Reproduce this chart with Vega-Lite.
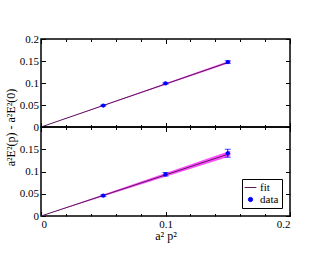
{
  "$schema": "https://vega.github.io/schema/vega-lite/v6.json",
  "padding": {"left": 3, "top": 32, "right": 5, "bottom": 5},
  "spacing": 0,
  "bounds": "flush",
  "resolve": {"legend": {"color": "independent"}},
  "datasets": {
    "topPts": [
      {"x": 0.05, "y": 0.0488, "lo": 0.0478, "hi": 0.0498},
      {"x": 0.1, "y": 0.099, "lo": 0.0975, "hi": 0.1005},
      {"x": 0.15, "y": 0.1475, "lo": 0.1445, "hi": 0.1505}
    ],
    "topFit": [
      {"x": 0, "fit": 0, "lo": 0, "hi": 0, "series": "fit"},
      {"x": 0.152, "fit": 0.1485, "lo": 0.146, "hi": 0.151, "series": "fit"}
    ],
    "botPts": [
      {"x": 0.05, "y": 0.0457, "lo": 0.0437, "hi": 0.0477, "series": "data"},
      {"x": 0.1, "y": 0.0937, "lo": 0.0897, "hi": 0.0977, "series": "data"},
      {"x": 0.15, "y": 0.141, "lo": 0.132, "hi": 0.15, "series": "data"}
    ],
    "botFit": [
      {"x": 0, "fit": 0, "lo": 0, "hi": 0, "series": "fit"},
      {"x": 0.152, "fit": 0.1405, "lo": 0.1345, "hi": 0.1465, "series": "fit"}
    ]
  },
  "config": {
    "font": "Liberation Serif",
    "view": {"stroke": "#000000", "strokeWidth": 1.5},
    "axis": {
      "domain": false,
      "grid": false,
      "tickColor": "#000000",
      "tickWidth": 1,
      "labelFont": "Liberation Serif",
      "labelFontSize": 11,
      "labelColor": "#000000",
      "titleFont": "Liberation Serif",
      "titleFontSize": 12,
      "titleFontWeight": "normal",
      "titleColor": "#000000",
      "values": [0, 0.01, 0.02, 0.03, 0.04, 0.05, 0.06, 0.07, 0.08, 0.09, 0.1, 0.11, 0.12, 0.13, 0.14, 0.15, 0.16, 0.17, 0.18, 0.19, 0.2],
      "tickSize": {"condition": {"test": "abs(datum.value*20 - round(datum.value*20)) < 1e-6", "value": -4.5}, "value": -2.5}
    }
  },
  "vconcat": [
    {
      "width": 249,
      "height": 88,
      "resolve": {"axis": {"x": "independent", "y": "independent"}},
      "layer": [
        {
          "data": {"name": "topFit"},
          "mark": {"type": "area", "color": "#ff00ff", "opacity": 0.7},
          "encoding": {
            "x": {"field": "x", "type": "quantitative", "scale": {"domain": [0, 0.2], "nice": false},
              "axis": {"orient": "bottom", "labels": false, "title": null}},
            "y": {"field": "lo", "type": "quantitative", "scale": {"domain": [0, 0.2], "nice": false},
              "axis": {"orient": "left", "labelExpr": "abs(datum.value*20 - round(datum.value*20)) < 1e-6 ? format(datum.value, '') : ''",
                "labelPadding": 7, "title": "a²E²(p) - a²E²(0)", "titleY": 88, "titlePadding": 2}},
            "y2": {"field": "hi"}
          }
        },
        {
          "data": {"name": "topFit"},
          "mark": {"type": "line", "color": "#5a1a5a", "strokeWidth": 1},
          "encoding": {
            "x": {"field": "x", "type": "quantitative", "axis": {"orient": "top", "labels": false, "title": null}},
            "y": {"field": "fit", "type": "quantitative", "axis": {"orient": "right", "labels": false, "title": null}}
          }
        },
        {
          "data": {"name": "topPts"},
          "mark": {"type": "errorbar", "ticks": {"size": 6, "color": "#0000ff"}, "color": "#0000ff"},
          "encoding": {
            "x": {"field": "x", "type": "quantitative", "axis": null},
            "y": {"field": "lo", "type": "quantitative", "axis": null},
            "y2": {"field": "hi"}
          }
        },
        {
          "data": {"name": "topPts"},
          "mark": {"type": "point", "filled": true, "color": "#0000ff", "opacity": 1, "size": 18},
          "encoding": {
            "x": {"field": "x", "type": "quantitative", "axis": null},
            "y": {"field": "y", "type": "quantitative", "axis": null}
          }
        }
      ]
    },
    {
      "width": 249,
      "height": 89,
      "resolve": {"axis": {"x": "independent", "y": "independent"}},
      "layer": [
        {
          "data": {"name": "botFit"},
          "mark": {"type": "area", "color": "#ff00ff", "opacity": 0.7},
          "encoding": {
            "x": {"field": "x", "type": "quantitative", "scale": {"domain": [0, 0.2], "nice": false},
              "axis": {"orient": "bottom", "labelExpr": "abs(datum.value*20 - round(datum.value*20)) < 1e-6 ? format(datum.value, '') : ''",
                "labelPadding": 7, "title": "a² p²", "titlePadding": 1}},
            "y": {"field": "lo", "type": "quantitative", "scale": {"domain": [0, 0.2], "nice": false},
              "axis": {"orient": "left", "labelExpr": "abs(datum.value*20 - round(datum.value*20)) < 1e-6 && datum.value < 0.19 ? format(datum.value, '') : ''",
                "labelPadding": 7, "title": null}},
            "y2": {"field": "hi"}
          }
        },
        {
          "data": {"name": "botFit"},
          "mark": {"type": "line", "strokeWidth": 1},
          "encoding": {
            "x": {"field": "x", "type": "quantitative", "axis": {"orient": "top", "labels": false, "title": null}},
            "y": {"field": "fit", "type": "quantitative", "axis": {"orient": "right", "labels": false, "title": null}},
            "color": {"field": "series", "type": "nominal",
              "scale": {"domain": ["fit", "data"], "range": ["#5a1a5a", "#0000ff"]},
              "legend": {
                "orient": "bottom-right", "offset": 8, "title": null,
                "strokeColor": "#000000", "fillColor": "#ffffff", "padding": 3,
                "labelFont": "Liberation Serif", "labelFontSize": 11, "labelColor": "#000000",
                "rowPadding": 0, "symbolSize": 30,
                "encode": {"symbols": {"update": {
                  "shape": {"signal": "datum.value === 'fit' ? 'stroke' : 'circle'"},
                  "size": {"signal": "datum.value === 'fit' ? 140 : 18"},
                  "fill": {"signal": "datum.value === 'fit' ? 'transparent' : '#0000ff'"},
                  "stroke": {"signal": "datum.value === 'fit' ? '#333333' : 'transparent'"},
                  "strokeWidth": {"value": 1},
                  "opacity": {"value": 1}
                }}}
              }}
          }
        },
        {
          "data": {"name": "botPts"},
          "mark": {"type": "errorbar", "ticks": {"size": 6, "color": "#0000ff"}, "color": "#0000ff"},
          "encoding": {
            "x": {"field": "x", "type": "quantitative", "axis": null},
            "y": {"field": "lo", "type": "quantitative", "axis": null},
            "y2": {"field": "hi"}
          }
        },
        {
          "data": {"name": "botPts"},
          "mark": {"type": "point", "filled": true, "opacity": 1, "size": 18},
          "encoding": {
            "x": {"field": "x", "type": "quantitative", "axis": null},
            "y": {"field": "y", "type": "quantitative", "axis": null},
            "color": {"field": "series", "type": "nominal"}
          }
        }
      ]
    }
  ]
}
